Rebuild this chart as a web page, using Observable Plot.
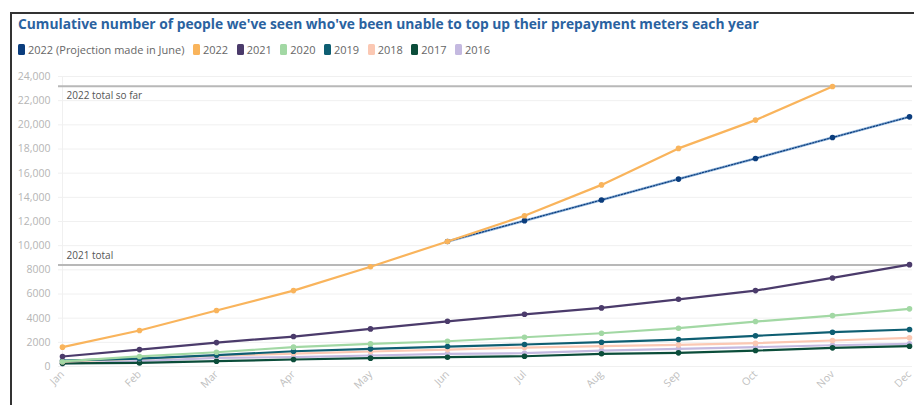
<!DOCTYPE html>
<html>
<head>
<meta charset="utf-8">
<script src="https://cdn.jsdelivr.net/npm/d3@7"></script>
<script src="https://cdn.jsdelivr.net/npm/@observablehq/plot@0.6"></script>
<style>
  html, body { margin: 0; padding: 0; background: #fff; }
  #wrap { position: relative; width: 914px; height: 405px; overflow: hidden; font-family: "Open Sans", sans-serif; }
  #frame { position: absolute; left: 10px; top: 12px; width: 920px; height: 420px; border-left: 2px solid #333; border-top: 2px solid #333; }
  #title { position: absolute; left: 18px; top: 14px; font-size: 13.8px; font-weight: 700; color: #2a62a0; white-space: nowrap; }
  #legend { position: absolute; left: 18px; top: 42px; font-size: 11px; color: #666; white-space: nowrap; display: flex; align-items: center; }
  #legend .item { display: flex; align-items: center; margin-right: 8.5px; }
  #legend .sw { width: 7px; height: 11px; border-radius: 1.5px; margin-right: 3px; }
  #chart { position: absolute; left: 0; top: 60px; }
</style>
</head>
<body>
<div id="wrap">
  <div id="frame"></div>
  <div id="title">Cumulative number of people we've seen who've been unable to top up their prepayment meters each year</div>
  <div id="legend"></div>
  <div id="chart"></div>
</div>
<script>
const months = ["Jan","Feb","Mar","Apr","May","Jun","Jul","Aug","Sep","Oct","Nov","Dec"];
const seriesNames = ["2022 (Projection made in June)","2022","2021","2020","2019","2018","2017","2016"];
const seriesColors = ["#0b3d7d","#f9b45c","#4b3b6b","#a2d8a4","#0e5e72","#fbc8b3","#0b4d3a","#c4b9e0"];

const vProjection = [null,null,null,null,null,10350,12070,13780,15510,17220,18950,20660];
const v2022 = [1600,2980,4630,6280,8260,10350,12480,15030,18050,20390,23170,null];
const v2021 = [830,1400,1980,2480,3110,3740,4320,4850,5560,6280,7330,8430];
const v2020 = [420,830,1180,1600,1870,2090,2420,2750,3170,3720,4210,4770];
const v2019 = [480,650,940,1260,1460,1650,1820,2010,2230,2540,2840,3060];
const v2018 = [400,640,900,1070,1240,1400,1570,1690,1790,1930,2150,2370];
const v2017 = [260,300,440,580,690,770,850,1050,1130,1320,1545,1680];
const v2016 = [230,440,720,770,910,1050,1100,1320,1460,1600,1760,1880];

const refValues = [23200, 8400];
const refLabels = ["2022 total so far", "2021 total"];
const yTicks = [0,2000,4000,6000,8000,10000,12000,14000,16000,18000,20000,22000,24000];

const valuesBySeries = [vProjection, v2022, v2021, v2020, v2019, v2018, v2017, v2016];
const rows = [];
seriesNames.forEach((s, i) => {
  valuesBySeries[i].forEach((v, j) => { if (v != null) rows.push({series: s, month: months[j], value: v}); });
});

// legend
const legend = document.getElementById("legend");
seriesNames.forEach((s, i) => {
  const it = document.createElement("div"); it.className = "item";
  const sw = document.createElement("div"); sw.className = "sw"; sw.style.background = seriesColors[i];
  const tx = document.createElement("span"); tx.textContent = s;
  it.appendChild(sw); it.appendChild(tx); legend.appendChild(it);
});

const drawOrder = ["2016","2017","2018","2019","2020","2021","2022 (Projection made in June)","2022"];
const lineMarks = [];
drawOrder.forEach(s => {
  const d = rows.filter(r => r.series === s);
  const i = seriesNames.indexOf(s);
  if (i === 0) {
    lineMarks.push(Plot.line(d, {x: "month", y: "value", stroke: "#8fb3da", strokeWidth: 2.6}));
    lineMarks.push(Plot.line(d, {x: "month", y: "value", stroke: seriesColors[i], strokeWidth: 1.2, strokeDasharray: "1.5,1.5"}));
  } else {
    lineMarks.push(Plot.line(d, {x: "month", y: "value", stroke: seriesColors[i], strokeWidth: 2.2}));
  }
  lineMarks.push(Plot.dot(d, {x: "month", y: "value", fill: seriesColors[i], r: 2.8}));
});

const fmt = d => d >= 10000 ? d3.format(",")(d) : String(d);

const chart = Plot.plot({
  width: 914,
  height: 345,
  marginLeft: 58,
  marginRight: 2,
  marginTop: 16,
  marginBottom: 39,
  style: {fontFamily: "Open Sans, sans-serif", fontSize: "10.5px", background: "transparent", overflow: "visible"},
  x: {type: "point", domain: months, padding: 0, label: null},
  y: {domain: [0, 24000], label: null},
  marks: [
    Plot.gridY(yTicks, {stroke: "#f0f0f0", strokeOpacity: 1}),
    Plot.ruleX([months[0]], {stroke: "#f0f0f0"}),
    Plot.axisY(yTicks, {tickFormat: fmt, tickSize: 0, tickPadding: 8, fill: "#b5b5b5", fontSize: 10.5}),
    Plot.axisX(months, {tickSize: 0, tickRotate: -45, tickPadding: 6, fill: "#c0c0c0", fontSize: 10.5}),
    Plot.ruleY(refValues, {stroke: "#b8b8b8", strokeWidth: 2}),
    Plot.text([refLabels[0]], {x: () => months[0], y: () => refValues[0], text: d => d, textAnchor: "start", dx: 4, dy: 10, fill: "#555", fontSize: 10}),
    Plot.text([refLabels[1]], {x: () => months[0], y: () => refValues[1], text: d => d, textAnchor: "start", dx: 4, dy: -9, fill: "#555", fontSize: 10}),
    ...lineMarks
  ]
});
document.getElementById("chart").appendChild(chart);
</script>
</body>
</html>
